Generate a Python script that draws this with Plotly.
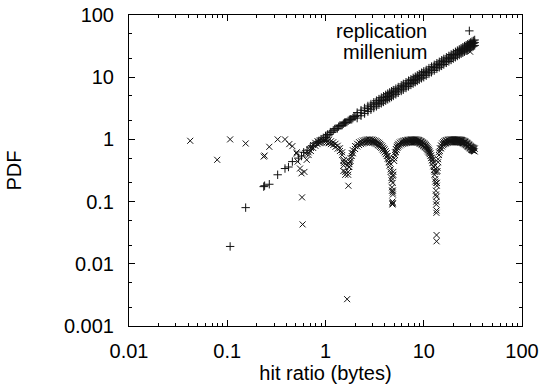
import plotly.graph_objects as go

# ---------------- data ----------------
series_names = ["replication", "millenium"]
x_tick_vals = [0.01, 0.1, 1, 10, 100]
x_tick_text = ["0.01", "0.1", "1", "10", "100"]
y_tick_vals = [0.001, 0.01, 0.1, 1, 10, 100]
y_tick_text = ["0.001", "0.01", "0.1", "1", "10", "100"]

# replication: sparse low-x points
rep_x_sparse = [0.107, 0.154, 0.235, 0.24, 0.268, 0.326, 0.387, 0.42, 0.46, 0.53, 0.57,
                0.6, 0.65, 0.7, 0.75, 0.8, 0.85, 0.9, 0.95, 1.0,
                1.05, 1.12, 1.2, 1.28, 1.36, 1.44, 1.52, 1.6, 1.7, 1.8, 1.9, 2.0,
                1.02, 1.09, 1.16, 1.24, 1.32, 1.4, 1.48, 1.56, 1.65, 1.75, 1.85, 1.95]
rep_y_sparse = [0.019, 0.080, 0.174, 0.18, 0.19, 0.27, 0.34, 0.36, 0.44, 0.50, 0.54,
                0.62, 0.67, 0.75, 0.79, 0.88, 0.93, 1.01, 1.06, 1.14,
                1.2, 1.31, 1.4, 1.5, 1.6, 1.68, 1.79, 1.87, 1.99, 2.1, 2.2, 2.33,
                1.08, 1.2, 1.3, 1.47, 1.5, 1.67, 1.7, 1.86, 1.9, 2.07, 2.1, 2.3]
# replication: dense band (centre, upper edge, lower edge)
rep_band_x = [2.1, 2.3, 2.5, 2.7, 2.9, 3.1, 3.3, 3.5, 3.7, 3.9, 4.1, 4.3, 4.5, 4.7, 4.9,
              5.2, 5.5, 5.9, 6.2, 6.6, 7.0, 7.4, 7.8, 8.2, 8.6, 9.0, 9.5, 10,
              10.6, 11.3, 12, 12.8, 13.6, 14.4, 15.2,
              16, 17, 18, 19, 20, 21, 22, 23, 24, 25, 26, 27, 28, 29, 30, 31, 32, 33]
rep_band_mid = [2.44, 2.67, 2.9, 3.13, 3.36, 3.59, 3.8, 4.0, 4.23, 4.45, 4.68, 4.9, 5.13, 5.36, 5.59,
                5.93, 6.27, 6.7, 7.04, 7.5, 7.9, 8.35, 8.8, 9.25, 9.7, 10.1, 10.65, 11.2,
                11.85, 12.6, 13.4, 14.3, 15.2, 16.0, 16.9,
                17.8, 18.9, 19.9, 21.0, 22.1, 23.2, 24.3, 25.3, 26.4, 27.5, 28.6, 29.6, 30.7, 31.7,
                32.8, 33.9, 34.9, 36.0]
rep_band_hi = [2.7, 2.95, 3.2, 3.45, 3.7, 3.95, 4.2, 4.45, 4.7, 4.95, 5.2, 5.45, 5.7, 5.95, 6.2,
               6.55, 6.95, 7.4, 7.8, 8.3, 8.8, 9.25, 9.75, 10.2, 10.7, 11.2, 11.8, 12.4,
               13.1, 14.0, 14.8, 15.8, 16.8, 17.7, 18.7,
               19.7, 20.9, 22.0, 23.2, 24.4, 25.6, 26.8, 28.0, 29.2, 30.4, 31.6, 32.7, 33.9, 35.0,
               36.2, 37.4, 38.5, 39.7]
rep_band_lo = [2.2, 2.4, 2.6, 2.8, 3.0, 3.2, 3.4, 3.6, 3.8, 4.0, 4.2, 4.4, 4.6, 4.8, 5.0,
               5.3, 5.6, 6.0, 6.3, 6.7, 7.1, 7.5, 7.9, 8.3, 8.7, 9.1, 9.6, 10.0,
               10.6, 11.3, 12.0, 12.8, 13.6, 14.4, 15.2,
               16.0, 17.0, 17.9, 18.9, 19.9, 20.9, 21.9, 22.8, 23.8, 24.7, 25.7, 26.6, 27.6, 28.5,
               29.5, 30.5, 31.4, 32.4]

# millenium: sparse low-x points and dip outliers
mil_x_sparse = [0.042, 0.079, 0.107, 0.154, 0.235, 0.24, 0.268, 0.326, 0.387, 0.428, 0.46,
                0.509, 0.509, 0.521, 0.55, 0.57, 0.577, 0.585, 0.61, 0.62, 0.644]
mil_y_sparse = [0.95, 0.47, 1.0, 0.86, 0.53, 0.55, 0.76, 1.0, 1.0, 0.84, 0.78,
                0.62, 0.59, 0.44, 0.34, 0.285, 0.117, 0.043, 0.30, 0.60, 0.47]
mil_x_dips = [1.52, 1.53, 1.52, 1.71, 1.73, 1.76, 1.71, 1.66,
              4.82, 4.84, 4.83, 4.83, 4.82,
              13.5, 13.5, 13.45, 13.5, 13.5, 13.45, 13.5]
mil_y_dips = [0.45, 0.38, 0.31, 0.41, 0.36, 0.44, 0.18, 0.0027,
              0.095, 0.093, 0.14, 0.2, 0.26,
              0.12, 0.072, 0.066, 0.029, 0.023, 0.2, 0.3]
# millenium arches (upper and lower rows)
arch1_x = [0.673, 0.71, 0.748, 0.788, 0.83, 0.875, 0.922, 0.972, 1.024, 1.079, 1.137, 1.198,
           1.263, 1.33, 1.402, 1.477, 1.541, 1.59]
arch1_hi = [0.62, 0.727, 0.812, 0.88, 0.933, 0.97, 0.993, 1.0, 0.993, 0.97, 0.933, 0.9,
            0.85, 0.79, 0.72, 0.62, 0.47, 0.3]
arch1_lo = [0.56, 0.65, 0.73, 0.79, 0.84, 0.87, 0.89, 0.9, 0.89, 0.87, 0.84, 0.81,
            0.76, 0.71, 0.65, 0.56, 0.42, 0.27]
arch2_x = [1.7, 1.75, 1.8, 1.85, 1.9, 2.0, 2.1, 2.2, 2.3, 2.4, 2.5, 2.6, 2.7, 2.8, 2.9,
           3.0, 3.1, 3.2, 3.3, 3.4, 3.5, 3.6, 3.7, 3.8, 3.9, 4.0, 4.1, 4.2, 4.3, 4.4, 4.5,
           4.6, 4.7, 4.75, 4.8]
arch2_hi = [0.3, 0.4, 0.5, 0.6, 0.67, 0.78, 0.85, 0.9, 0.93, 0.96, 0.975, 0.99, 1.0, 1.0, 0.998,
            0.99, 0.975, 0.955, 0.935, 0.905, 0.88, 0.845, 0.81, 0.77, 0.73, 0.69, 0.645, 0.6,
            0.54, 0.48, 0.42, 0.33, 0.24, 0.17, 0.1]
arch2_lo = [0.27, 0.36, 0.45, 0.54, 0.6, 0.7, 0.77, 0.81, 0.84, 0.86, 0.88, 0.89, 0.9, 0.9, 0.9,
            0.89, 0.88, 0.86, 0.84, 0.81, 0.79, 0.76, 0.73, 0.69, 0.66, 0.62, 0.58, 0.54,
            0.49, 0.43, 0.38, 0.3, 0.22, 0.15, 0.09]
arch3_x = [4.85, 4.9, 5.0, 5.1, 5.2, 5.3, 5.4, 5.5,
           5.7, 5.9, 6.1, 6.3, 6.5, 6.7, 6.9, 7.1, 7.3, 7.5,
           7.7, 7.9, 8.1, 8.3, 8.5, 8.7, 8.9, 9.1, 9.3, 9.5,
           9.7, 9.9, 10.1, 10.3, 10.5, 10.7, 10.9, 11.1, 11.3, 11.5,
           11.7, 11.9, 12.1, 12.3, 12.5, 12.7, 12.9, 13.1, 13.3, 13.4]
arch3_hi = [0.15, 0.3, 0.5, 0.62, 0.7, 0.76, 0.81, 0.85,
            0.89, 0.92, 0.94, 0.955, 0.965, 0.975, 0.985, 0.99, 0.995, 1.0,
            1.0, 1.0, 1.0, 0.998, 0.993, 0.985, 0.975, 0.96, 0.94, 0.925,
            0.905, 0.88, 0.86, 0.835, 0.81, 0.78, 0.745, 0.71, 0.68, 0.64,
            0.6, 0.555, 0.51, 0.465, 0.415, 0.36, 0.30, 0.23, 0.15, 0.10]
arch3_lo = [0.13, 0.27, 0.45, 0.56, 0.63, 0.68, 0.73, 0.77,
            0.8, 0.83, 0.85, 0.86, 0.87, 0.88, 0.89, 0.89, 0.9, 0.9,
            0.9, 0.9, 0.9, 0.9, 0.89, 0.89, 0.88, 0.86, 0.85, 0.83,
            0.81, 0.79, 0.77, 0.75, 0.73, 0.7, 0.67, 0.64, 0.61, 0.58,
            0.54, 0.5, 0.46, 0.42, 0.37, 0.32, 0.27, 0.21, 0.13, 0.09]
arch4_x = [13.6, 13.8, 14.0, 14.3, 14.6, 15.0, 15.4, 15.8, 16.2, 16.6,
           17.0, 17.5, 18, 18.5, 19, 19.5, 20, 20.5, 21, 21.5,
           22, 22.5, 23, 23.5, 24, 24.5, 25, 25.5, 26, 26.5,
           27, 27.5, 28, 28.5, 29, 29.5, 30, 30.5, 31, 31.5,
           32, 32.5, 33]
arch4_hi = [0.2, 0.35, 0.48, 0.62, 0.72, 0.8, 0.86, 0.9, 0.93, 0.955,
            0.97, 0.985, 0.995, 1.0, 1.0, 1.0, 1.0, 1.0, 1.0, 1.0,
            1.0, 1.0, 0.995, 0.99, 0.985, 0.975, 0.965, 0.95, 0.935, 0.92,
            0.9, 0.88, 0.86, 0.84, 0.82, 0.8, 0.78, 0.76, 0.75, 0.74,
            0.73, 0.72, 0.71]
arch4_lo = [0.18, 0.31, 0.43, 0.56, 0.65, 0.72, 0.77, 0.81, 0.84, 0.86,
            0.87, 0.89, 0.9, 0.9, 0.9, 0.9, 0.9, 0.9, 0.9, 0.9,
            0.9, 0.9, 0.9, 0.89, 0.89, 0.88, 0.87, 0.86, 0.84, 0.83,
            0.81, 0.79, 0.77, 0.76, 0.74, 0.72, 0.7, 0.68, 0.675, 0.665,
            0.66, 0.65, 0.64]

# ---------------- assemble ----------------
rep_x = rep_x_sparse + rep_band_x + rep_band_x + rep_band_x
rep_y = rep_y_sparse + rep_band_mid + rep_band_hi + rep_band_lo

mil_x = (mil_x_sparse + mil_x_dips + arch1_x + arch1_x + arch2_x + arch2_x
         + arch3_x + arch3_x + arch4_x + arch4_x)
mil_y = (mil_y_sparse + mil_y_dips + arch1_hi + arch1_lo + arch2_hi + arch2_lo
         + arch3_hi + arch3_lo + arch4_hi + arch4_lo)

FONT = "Liberation Sans, Arial, Helvetica, sans-serif"
plus_marker = dict(symbol="cross-thin", size=6, color="#111", line=dict(width=1, color="#111"))
x_marker = dict(symbol="x-thin", size=6, color="#111", line=dict(width=1, color="#111"))

fig = go.Figure()
fig.add_trace(go.Scatter(x=rep_x, y=rep_y, mode="markers", name=series_names[0],
                         marker=plus_marker, showlegend=False))
fig.add_trace(go.Scatter(x=mil_x, y=mil_y, mode="markers", name=series_names[1],
                         marker=x_marker, showlegend=False))

# gnuplot-style key: text right-aligned, sample point to its right
fig.add_trace(go.Scatter(x=[0.866], y=[0.949], xaxis="x2", yaxis="y2", mode="markers",
                         marker=plus_marker, showlegend=False, hoverinfo="skip"))
fig.add_trace(go.Scatter(x=[0.868], y=[0.882], xaxis="x2", yaxis="y2", mode="markers",
                         marker=x_marker, showlegend=False, hoverinfo="skip"))
for name, yy in zip(series_names, [0.949, 0.882]):
    fig.add_annotation(text=name, xref="paper", yref="paper", x=0.764, y=yy,
                       xanchor="right", yanchor="middle", showarrow=False,
                       font=dict(family=FONT, size=20, color="black"))

axis_common = dict(type="log", showgrid=False, zeroline=False, showline=True,
                   linecolor="black", linewidth=1, mirror="allticks",
                   ticks="inside", ticklen=6, tickwidth=1, tickcolor="black",
                   automargin=False,
                   tickfont=dict(family=FONT, size=20, color="black"))

fig.update_layout(
    width=542, height=391,
    margin=dict(l=129, r=20, t=15, b=65, autoexpand=False),
    paper_bgcolor="white", plot_bgcolor="white",
    showlegend=False,
    font=dict(family=FONT, size=20, color="black"),
    xaxis=dict(axis_common, range=[-2, 2], tickmode="array",
               tickvals=x_tick_vals, ticktext=x_tick_text, ticklabelstandoff=7,
               minor=dict(ticks="inside", ticklen=3, tickcolor="black", dtick="D1", showgrid=False),
               title=dict(text="hit ratio (bytes)", standoff=3,
                          font=dict(family=FONT, size=20, color="black"))),
    yaxis=dict(axis_common, range=[-3, 2], tickmode="array",
               tickvals=y_tick_vals, ticktext=y_tick_text, ticklabelstandoff=10,
               minor=dict(ticks="inside", ticklen=3, tickcolor="black", dtick="D2", showgrid=False),
               title=dict(text="PDF", standoff=36,
                          font=dict(family=FONT, size=20, color="black"))),
    xaxis2=dict(overlaying="x", range=[0, 1], visible=False),
    yaxis2=dict(overlaying="y", range=[0, 1], visible=False),
)

fig.write_html("out.html")
